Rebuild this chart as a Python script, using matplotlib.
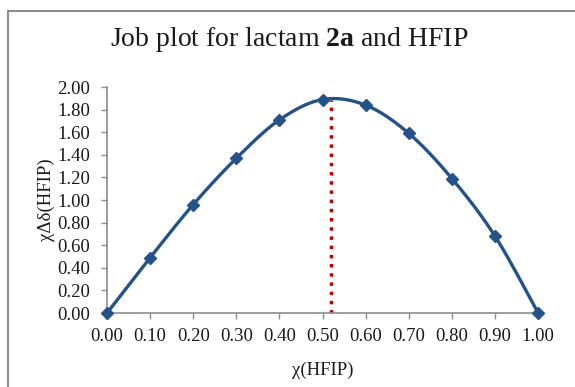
import numpy as np
import matplotlib
matplotlib.use("Agg")
from matplotlib import pyplot as plt
from matplotlib.patches import Rectangle

plt.rcParams['font.family'] = ['Liberation Serif', 'DejaVu Serif']
plt.rcParams['mathtext.fontset'] = 'custom'
plt.rcParams['mathtext.rm'] = 'Liberation Serif'
plt.rcParams['mathtext.bf'] = 'Liberation Serif:bold'

# data
chi = [0.0, 0.1, 0.2, 0.3, 0.4, 0.5, 0.6, 0.7, 0.8, 0.9, 1.0]
chi_dd = [0.00, 0.49, 0.96, 1.37, 1.71, 1.89, 1.84, 1.59, 1.19, 0.68, 0.00]
x_max = 0.52      # position of the maximum (red dotted line)
y_max = 1.89
x_ticks = [0.0, 0.1, 0.2, 0.3, 0.4, 0.5, 0.6, 0.7, 0.8, 0.9, 1.0]
y_ticks = [0.0, 0.2, 0.4, 0.6, 0.8, 1.0, 1.2, 1.4, 1.6, 1.8, 2.0]


def smooth(x, y, n=30):
    # catmull-rom curve through the points, like excel's smoothed line
    x = np.asarray(x, float)
    y = np.asarray(y, float)
    px = np.concatenate([[x[0]], x, [x[-1]]])
    py = np.concatenate([[y[0]], y, [y[-1]]])
    xs, ys = [], []
    t = np.linspace(0, 1, n)
    for i in range(1, len(px) - 2):
        for p, out in ((px, xs), (py, ys)):
            p0, p1, p2, p3 = p[i - 1], p[i], p[i + 1], p[i + 2]
            out.extend(0.5 * (2 * p1 + (-p0 + p2) * t
                              + (2 * p0 - 5 * p1 + 4 * p2 - p3) * t ** 2
                              + (-p0 + 3 * p1 - 3 * p2 + p3) * t ** 3))
    return xs, ys


fig = plt.figure(figsize=(5.75, 3.87), dpi=100)
ax = fig.add_axes([0.186, 0.191, 0.75, 0.584])

# chart border
fig.patches.append(Rectangle((8 / 575, -0.1), 1.2, 1 - 11 / 387 + 0.1,
                             transform=fig.transFigure, fill=False,
                             edgecolor='#8c8c8c', linewidth=1.5))

sx, sy = smooth(chi, chi_dd)
ax.plot(sx, sy, '-', color='#255288', linewidth=2.4, zorder=3, clip_on=False)
ax.plot(chi, chi_dd, 'D', color='#255288', markersize=6.5, zorder=4, clip_on=False)
ax.plot([x_max, x_max], [0, y_max], ':', color='#c00000', linewidth=2.5, zorder=2)

ax.set_xlim(0, 1)
ax.set_ylim(0, 2)
ax.set_xticks(x_ticks)
ax.set_yticks(y_ticks)
ax.set_xticklabels(['%.2f' % v for v in x_ticks])
ax.set_yticklabels(['%.2f' % v for v in y_ticks])
ax.tick_params(labelsize=13.5, colors='#8c8c8c', labelcolor='#1a1a1a',
               length=4, width=1)
ax.tick_params(axis='x', pad=7)
ax.tick_params(axis='y', pad=8)

for s in ['top', 'right']:
    ax.spines[s].set_visible(False)
for s in ['left', 'bottom']:
    ax.spines[s].set_color('#8c8c8c')
    ax.spines[s].set_linewidth(1.2)

ax.set_xlabel('χ(HFIP)', fontsize=13.5, labelpad=12, color='#1a1a1a')
ax.set_ylabel('χΔδ(HFIP)', fontsize=13.5, labelpad=2, color='#1a1a1a')

fig.text(0.503, 0.897, r'Job plot for lactam $\mathbf{2a}$ and HFIP',
         ha='center', va='center', fontsize=20, color='#1a1a1a')

fig.savefig('out.png', dpi=100)
